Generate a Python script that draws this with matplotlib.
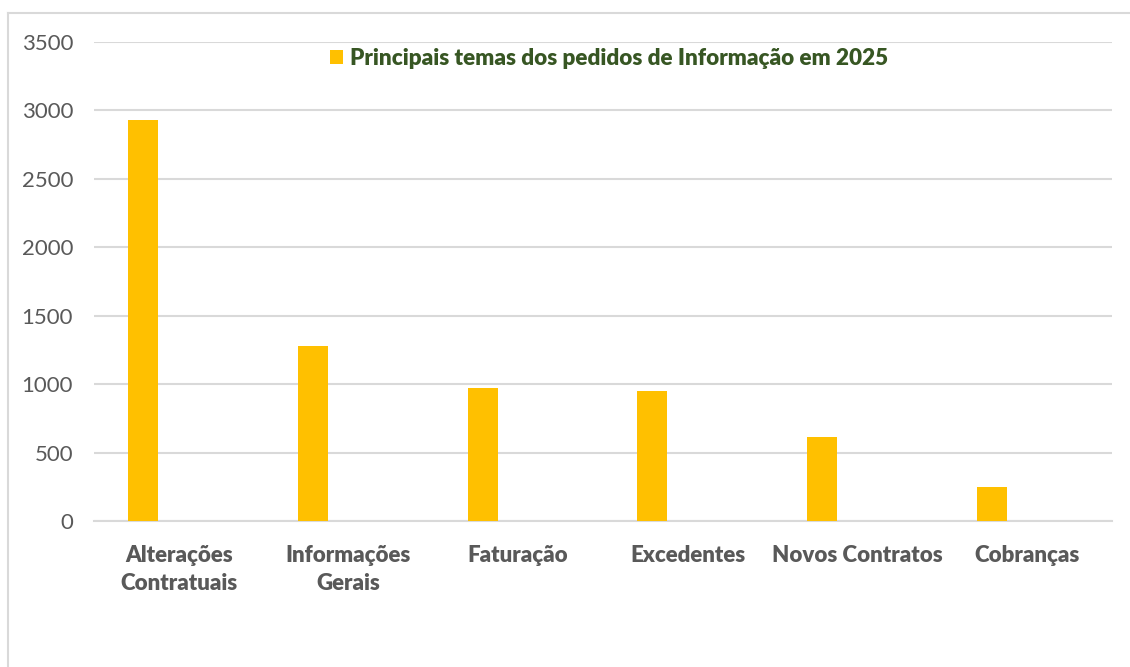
import matplotlib.pyplot as plt
import numpy as np
from matplotlib.lines import Line2D

categories = ["Alterações\nContratuais", "Informações\nGerais", "Faturação",
              "Excedentes", "Novos Contratos", "Cobranças"]
values = [2930, 1280, 970, 950, 615, 245]
yticks = [0, 500, 1000, 1500, 2000, 2500, 3000, 3500]
series_label = "Principais temas dos pedidos de Informação em 2025"

plt.rcParams["font.family"] = ["Lato", "DejaVu Sans"]

W, H = 1130, 667
fig = plt.figure(figsize=(W / 100, H / 100), dpi=100)
ax = fig.add_axes([94 / W, 1 - 521 / H, (1112 - 94) / W, (521 - 42) / H])

x = np.arange(len(categories))
ax.bar(x - 0.21, values, width=0.177, color="#FFC000", label=series_label, zorder=3)

ax.set_xlim(-0.5, len(categories) - 0.5)
ax.set_ylim(0, 3500)
ax.set_yticks(yticks)
ax.set_xticks(x)
ax.set_xticklabels(categories, fontweight="heavy", color="#595959", fontsize=16,
                   linespacing=1.45)
ax.tick_params(axis="y", labelsize=16, labelcolor="#595959", length=0, pad=15)
ax.tick_params(axis="x", length=0, pad=17)
ax.grid(axis="y", color="#D9D9D9", linewidth=1.5, zorder=0)
for side in ["top", "right", "left"]:
    ax.spines[side].set_visible(False)
ax.spines["bottom"].set_color("#D9D9D9")
ax.spines["bottom"].set_linewidth(1.5)

leg = ax.legend(loc="upper center", bbox_to_anchor=(0.506, 1.03), frameon=False,
                handlelength=0.6, handleheight=0.6, handletextpad=0.3,
                prop={"weight": "heavy", "size": 16.2})
for t in leg.get_texts():
    t.set_color("#375623")

# outer chart border
fig.add_artist(Line2D([8 / W, 8 / W], [0, 1 - 13 / H], transform=fig.transFigure,
                      color="#D9D9D9", linewidth=1.5))
fig.add_artist(Line2D([8 / W, 1], [1 - 13 / H, 1 - 13 / H], transform=fig.transFigure,
                      color="#D9D9D9", linewidth=1.5))

fig.savefig("out.png", dpi=100)
plt.close(fig)
